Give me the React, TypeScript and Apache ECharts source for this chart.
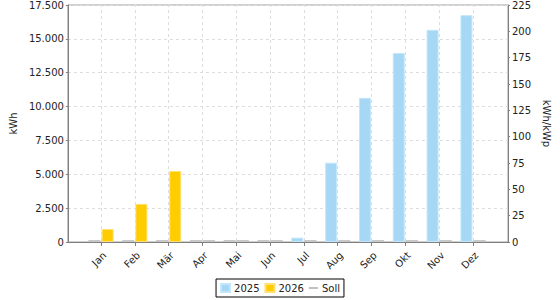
import React, { useEffect, useRef } from "react";
import * as echarts from "echarts";

const months = ["Jan", "Feb", "Mär", "Apr", "Mai", "Jun", "Jul", "Aug", "Sep", "Okt", "Nov", "Dez"];
const values2025 = [0, 0, 0, 0, 0, 0, 320, 5830, 10600, 13900, 15600, 16680];
const values2026 = [950, 2800, 5220, 0, 0, 0, 0, 0, 0, 0, 0, 0];
const valuesSoll: (number | null)[] = [null, null, null, null, null, null, null, null, null, null, null, null];

const leftTicks = { min: 0, max: 17500, interval: 2500 };
const rightTicks = { min: 0, max: 225, interval: 25 };

const FONT = "DejaVu Sans";
const BLUE = "#a6d8f6";
const YELLOW = "#ffcc00";
const ZERO = "#c8c8c8";

const fmt = (v: number) => String(v).replace(/\B(?=(\d{3})+(?!\d))/g, ".");

const toItems = (vals: number[]) =>
  vals.map((v) => (v === 0 ? { value: v, itemStyle: { color: ZERO, borderWidth: 0 } } : { value: v }));

export default function App() {
  const ref = useRef<HTMLDivElement>(null);
  useEffect(() => {
    if (!ref.current) return;
    const chart = echarts.init(ref.current, null, { renderer: "svg" });
    const labelStyle = { fontFamily: FONT, fontSize: 10, color: "#222" };
    const split = { show: true, lineStyle: { color: "#dddddd", type: [3, 3] as number[], width: 1 } };
    chart.setOption({
      animation: false,
      textStyle: { fontFamily: FONT },
      grid: [
        { left: 67, top: 4, width: 441, height: 238, show: true, borderColor: "#a0a0a0", borderWidth: 1, backgroundColor: "transparent" },
        { left: 101, top: 4, width: 372, height: 238 },
      ],
      xAxis: [
        {
          gridIndex: 0, type: "value", min: 0, max: 1,
          axisLine: { show: true, lineStyle: { color: "#808080", width: 1 } },
          axisTick: { show: false }, axisLabel: { show: false }, splitLine: { show: false },
        },
        {
          gridIndex: 1, type: "category", data: months, boundaryGap: false,
          axisLine: { show: false },
          axisTick: { show: true, length: 4, lineStyle: { color: "#808080" } },
          axisLabel: { ...labelStyle, rotate: 45, margin: 8, interval: 0, verticalAlign: "top" },
          splitLine: split,
        },
      ],
      yAxis: [
        {
          gridIndex: 0, type: "value", position: "left", ...leftTicks,
          name: "kWh", nameLocation: "middle", nameGap: 42, nameRotate: 90,
          nameTextStyle: { ...labelStyle },
          axisLine: { show: true, lineStyle: { color: "#808080" } },
          axisTick: { show: true, length: 2, lineStyle: { color: "#808080" } },
          axisLabel: { ...labelStyle, margin: 4, formatter: (v: number) => fmt(v) },
          splitLine: split,
        },
        {
          gridIndex: 0, type: "value", position: "right", ...rightTicks,
          name: "kWh/kWp", nameLocation: "middle", nameGap: 25, nameRotate: -90,
          nameTextStyle: { ...labelStyle },
          axisLine: { show: true, lineStyle: { color: "#808080" } },
          axisTick: { show: true, length: 2, lineStyle: { color: "#808080" } },
          axisLabel: { ...labelStyle, margin: 4 },
          splitLine: { show: false },
        },
        { gridIndex: 1, type: "value", ...leftTicks, show: false, splitLine: { show: false } },
      ],
      legend: {
        top: 279, left: "center",
        data: [
          { name: "2025", icon: "rect" },
          { name: "2026", icon: "rect" },
          { name: "Soll", icon: "path://M0,0H11V2.4H0Z" },
        ],
        itemWidth: 9, itemHeight: 8, itemGap: 5,
        borderColor: "#000", borderWidth: 1, padding: [4, 4],
        textStyle: { ...labelStyle, padding: [0, 0, 0, -1] },
      },
      series: [
        {
          name: "2025", type: "bar", xAxisIndex: 1, yAxisIndex: 2, clip: false,
          data: toItems(values2025), barWidth: 12, barGap: "10%", barMinHeight: 2,
          itemStyle: { color: BLUE, borderColor: "#c4e6fa", borderWidth: 1 },
        },
        {
          name: "2026", type: "bar", xAxisIndex: 1, yAxisIndex: 2, clip: false,
          data: toItems(values2026), barWidth: 12, barGap: "10%", barMinHeight: 2,
          itemStyle: { color: YELLOW, borderColor: "#ffe070", borderWidth: 1 },
        },
        {
          name: "Soll", type: "line", xAxisIndex: 1, yAxisIndex: 2, symbol: "none",
          data: valuesSoll, lineStyle: { color: "#c0c0c0", width: 2 }, itemStyle: { color: "#c0c0c0" },
        },
      ],
    });
    return () => chart.dispose();
  }, []);
  return <div ref={ref} style={{ position: "absolute", left: 0, top: 0, width: 560, height: 300 }} />;
}
